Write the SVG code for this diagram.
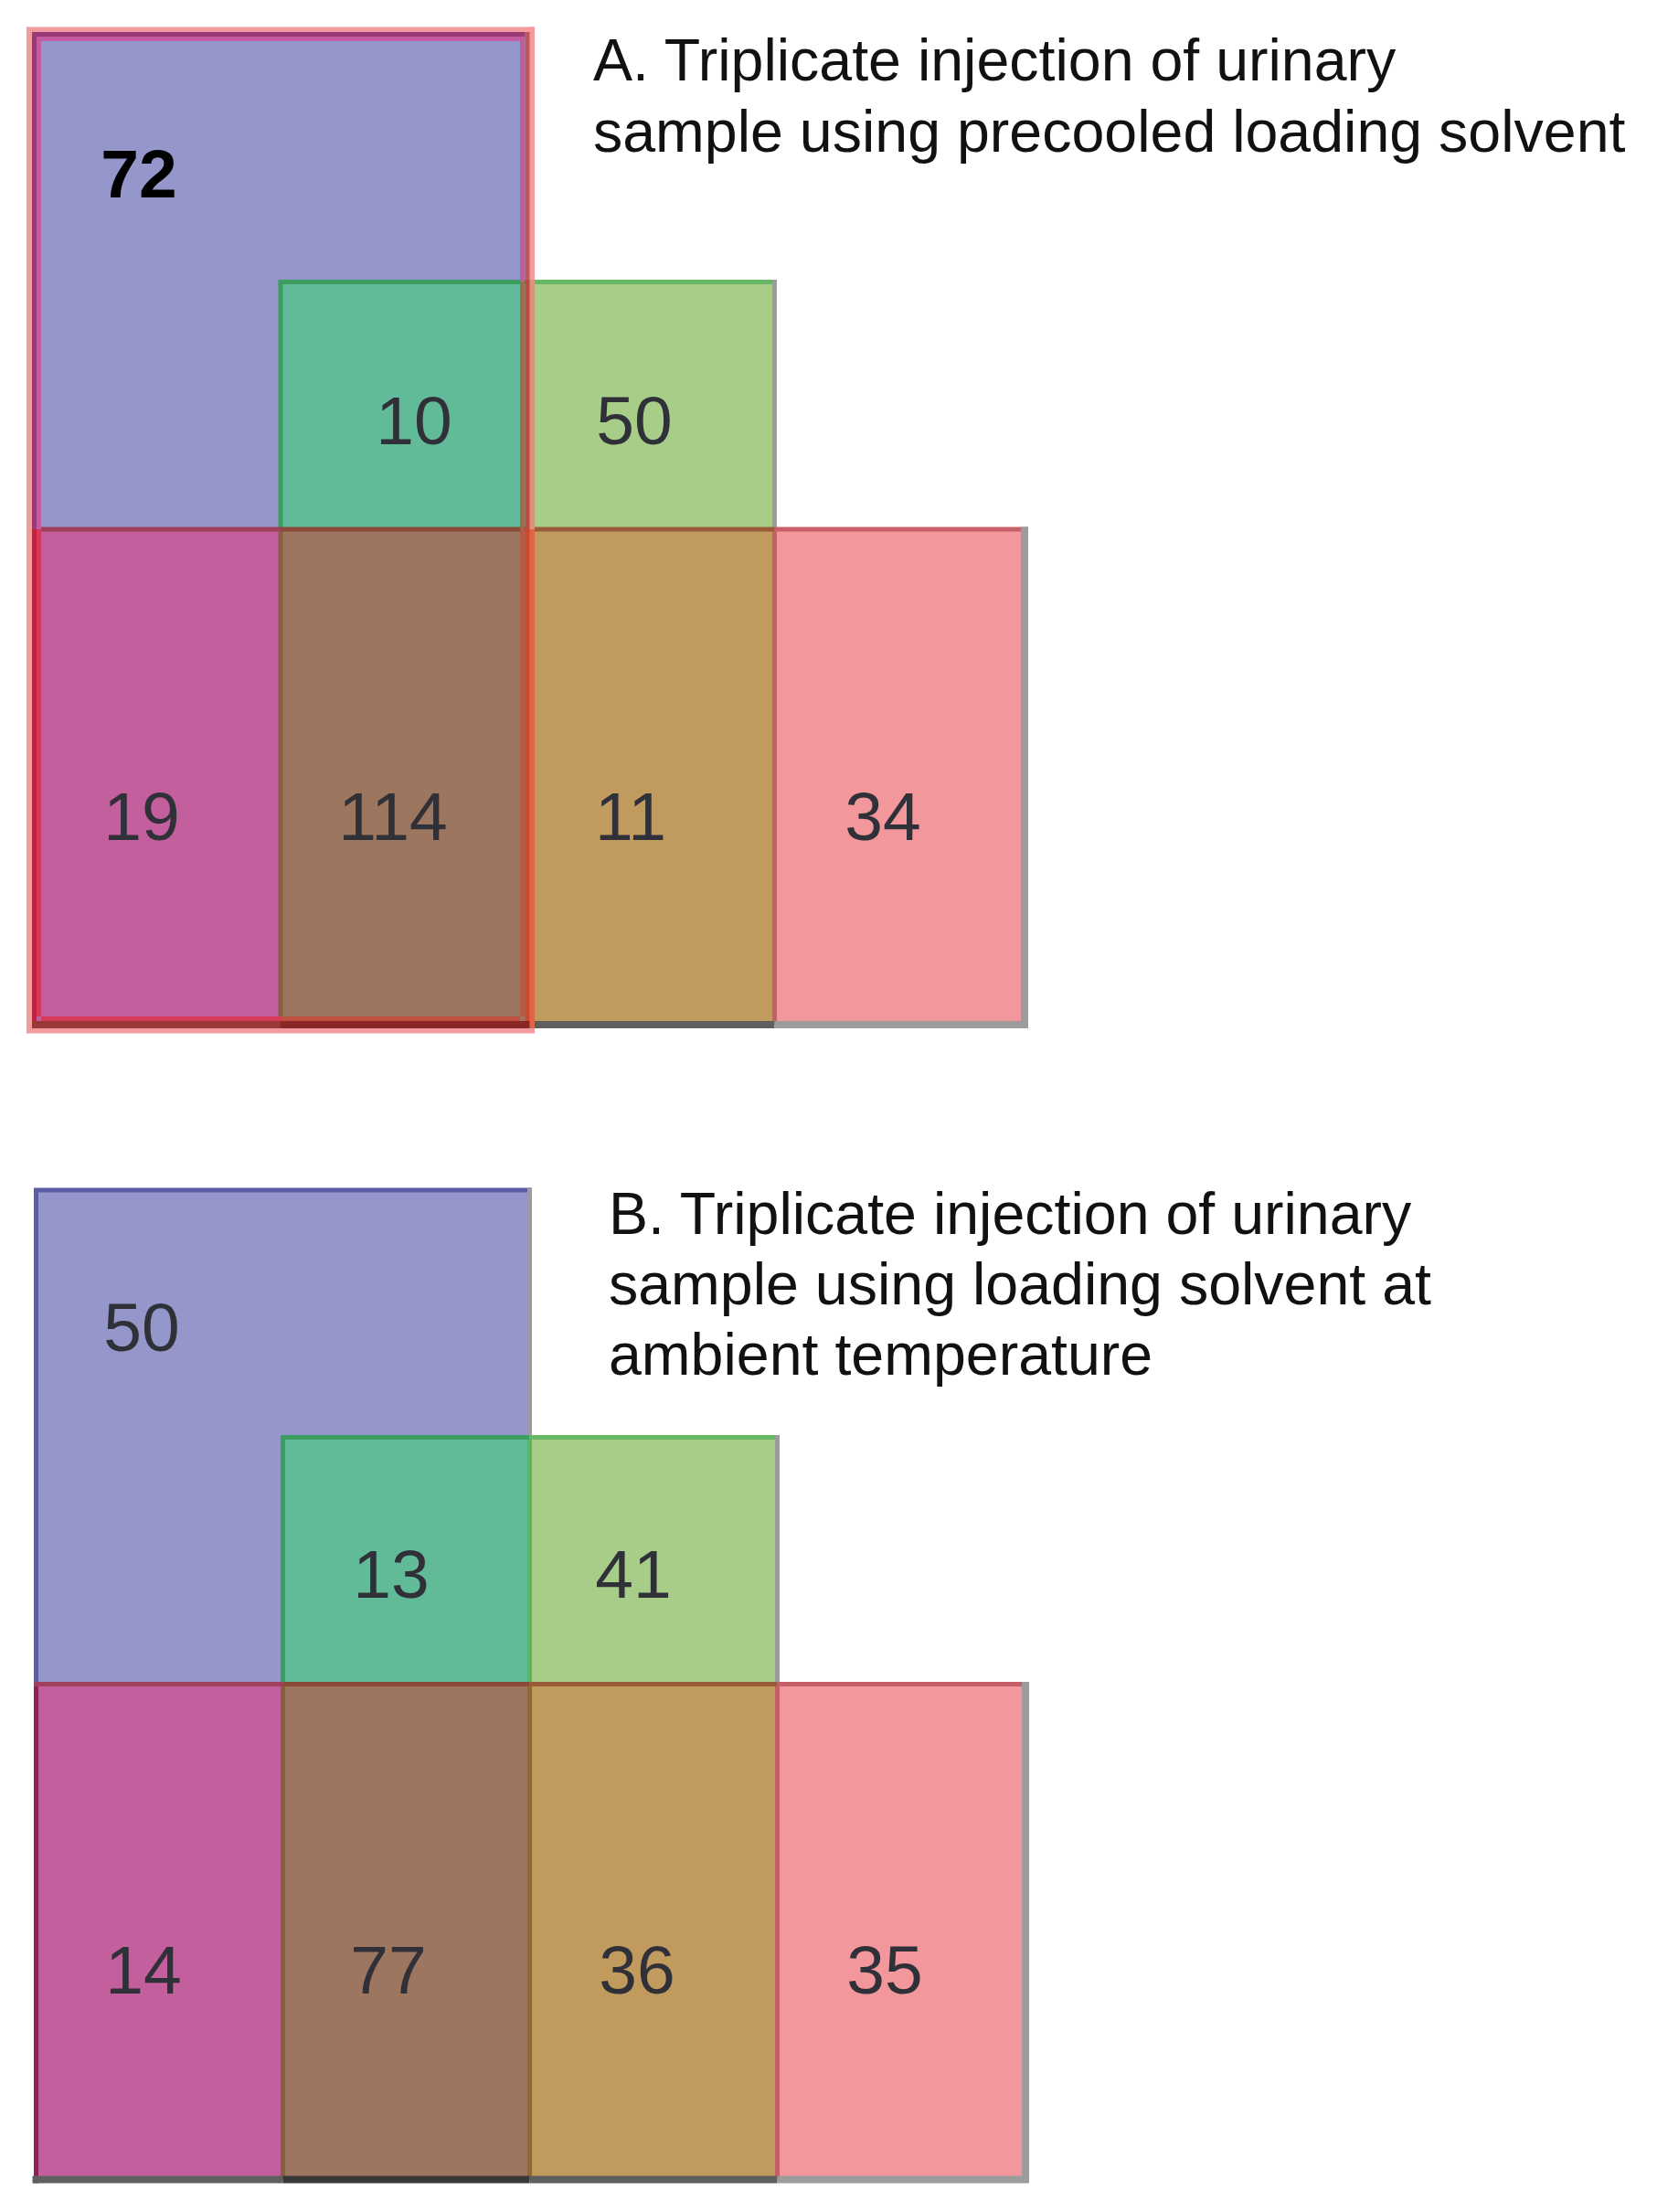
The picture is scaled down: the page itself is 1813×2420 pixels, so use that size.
<svg xmlns="http://www.w3.org/2000/svg" width="1813" height="2420" viewBox="0 0 1813 2420">
<style>
.num{font-family:"Liberation Sans",Arial,sans-serif;font-size:75px;fill:#303038;text-anchor:middle}
.bold{font-weight:bold;fill:#000}
.title{font-family:"Liberation Sans",Arial,sans-serif;font-size:64.5px;fill:#111}
.cB{fill:#9596c9}.cBG{fill:#62bb98}.cG{fill:#a8cd89}.cBR{fill:#c25f9c}.cBGR{fill:#9c765e}.cGR{fill:#c19b5e}.cR{fill:#f2979b}
.ln{fill:none;stroke-width:5;stroke-linecap:butt}
.w8{stroke-width:8}
.w6{stroke-width:6}
</style>
<rect width="1813" height="2420" fill="#fff"/>

<!-- Panel A -->
<g id="panelA">
<g id="A-72"><path class="cB" d="M35,35 H577 V308.5 H307 V579 H35 Z"/><text class="num bold" x="152" y="216">72</text></g>
<g id="A-10"><rect class="cBG" x="307" y="308.5" width="270" height="270.5"/><text class="num" x="453" y="486">10</text></g>
<g id="A-50"><rect class="cG" x="577" y="308.5" width="270.5" height="270.5"/><text class="num" x="694" y="486">50</text></g>
<g id="A-19"><rect class="cBR" x="35" y="579" width="272" height="542"/><text class="num" x="155" y="919">19</text></g>
<g id="A-114"><rect class="cBGR" x="307" y="579" width="270" height="542"/><text class="num" x="430" y="919">114</text></g>
<g id="A-11"><rect class="cGR" x="577" y="579" width="270.5" height="542"/><text class="num" x="690" y="919">11</text></g>
<g id="A-34"><rect class="cR" x="847.5" y="579" width="272" height="542"/><text class="num" x="966" y="919">34</text></g>
<g id="A-title">
<text class="title" x="649" y="88">A. Triplicate injection of urinary</text>
<text class="title" x="649" y="166">sample using precooled loading solvent</text>
</g>
</g>

<!-- Panel B -->
<g id="panelB">
<g id="B-50"><path class="cB" d="M39.5,1302 H579.5 V1572.5 H309.5 V1842.5 H39.5 Z"/><text class="num" x="155" y="1478">50</text></g>
<g id="B-13"><rect class="cBG" x="309.5" y="1572.5" width="270" height="270"/><text class="num" x="428" y="1748">13</text></g>
<g id="B-41"><rect class="cG" x="579.5" y="1572.5" width="271" height="270"/><text class="num" x="693" y="1748">41</text></g>
<g id="B-14"><rect class="cBR" x="39.5" y="1842.5" width="270" height="542"/><text class="num" x="157" y="2181">14</text></g>
<g id="B-77"><rect class="cBGR" x="309.5" y="1842.5" width="270" height="542"/><text class="num" x="425" y="2181">77</text></g>
<g id="B-36"><rect class="cGR" x="579.5" y="1842.5" width="271" height="542"/><text class="num" x="697" y="2181">36</text></g>
<g id="B-35"><rect class="cR" x="850.5" y="1842.5" width="271.5" height="542"/><text class="num" x="968" y="2181">35</text></g>
<g id="B-title">
<text class="title" x="666" y="1350">B. Triplicate injection of urinary</text>
<text class="title" x="666" y="1427">sample using loading solvent at</text>
<text class="title" x="666" y="1504">ambient temperature</text>
</g>
</g>

<!-- Set outlines -->
<g id="connectors">
<!-- Panel A green -->
<path class="ln" stroke="#3a9e5e" d="M305,308.5 H577 M307,306 V579"/>
<path class="ln" stroke="#66b866" d="M577,308.5 H850"/>
<path class="ln" stroke="#876040" d="M307,579 V1121"/>
<path class="ln" stroke="#9b9b9b" d="M847.5,306 V579"/>
<path class="ln" stroke="#c35f66" d="M847.5,579 V1121"/>
<!-- Panel A red -->
<path class="ln" stroke="#a0405e" d="M35,579 H307"/>
<path class="ln" stroke="#8a4838" d="M307,579 H577"/>
<path class="ln" stroke="#9a5c38" d="M577,579 H847.5"/>
<path class="ln" stroke="#c65f68" d="M847.5,579 H1125"/>
<path class="ln w8" stroke="#9c9c9c" d="M1121,576.5 V1125"/>
<path class="ln w8" stroke="#5f5f5f" d="M577,1121 H847.5"/>
<path class="ln w8" stroke="#9c9c9c" d="M847.5,1121 H1117"/>
<!-- Panel A highlighted set: outer pink -->
<path class="ln w6" stroke="#f49b9d" d="M32,1130.5 V32.5 H585 M29,1127.5 H585"/>
<path class="ln w6" stroke="#f49b9d" d="M582,29.5 V306"/>
<path class="ln w6" stroke="#d9957a" d="M582,306 V579"/>
<path class="ln w6" stroke="#e06545" d="M582,579 V1124.5"/>
<!-- dark band -->
<path class="ln" stroke="#9a3a78" d="M35,37.5 H574.5 M37.5,35 V579"/>
<path class="ln" stroke="#c42040" d="M37.5,579 V1117"/>
<path class="ln" stroke="#c0585a" d="M577,35 V306"/>
<path class="ln" stroke="#c04a40" d="M577,306 V579"/>
<path class="ln" stroke="#cc4a30" d="M577,579 V1117"/>
<path class="ln w8" stroke="#9a3838" d="M35,1121 H307"/>
<path class="ln w8" stroke="#8a2626" d="M307,1121 H579.5"/>
<!-- inner band -->
<path class="ln" stroke="#c25b9f" d="M40,42.5 H574 M42.5,45 V579 M571.5,45 V308.5"/>
<path class="ln" stroke="#d8385a" d="M42.5,579 V1112"/>
<path class="ln" stroke="#a06a48" d="M571.5,308.5 V579"/>
<path class="ln" stroke="#c05545" d="M571.5,579 V1112"/>
<path class="ln" stroke="#d83a5a" d="M45,1114.5 H307"/>
<path class="ln" stroke="#c05040" d="M307,1114.5 H569"/>

<!-- Panel B blue -->
<path class="ln" stroke="#5b5ea6" d="M37,1302 H582 M39.5,1299.5 V1842.5"/>
<path class="ln" stroke="#8b2252" d="M39.5,1842.5 V2388.5"/>
<path class="ln" stroke="#9b9b9b" d="M579.5,1299.5 V1572.5"/>
<path class="ln" stroke="#5fb55f" d="M579.5,1572.5 V1842.5"/>
<path class="ln" stroke="#94692f" d="M579.5,1842.5 V2384.5"/>
<!-- Panel B green -->
<path class="ln" stroke="#3a9e5e" d="M307,1572.5 H579.5 M309.5,1570 V1842.5"/>
<path class="ln" stroke="#66b866" d="M579.5,1572.5 H853"/>
<path class="ln" stroke="#876040" d="M309.5,1842.5 V2384.5"/>
<path class="ln" stroke="#9b9b9b" d="M850.5,1570 V1842.5"/>
<path class="ln" stroke="#c35f66" d="M850.5,1842.5 V2384.5"/>
<!-- Panel B red -->
<path class="ln" stroke="#a0405e" d="M37,1842.5 H309.5"/>
<path class="ln" stroke="#8a4838" d="M309.5,1842.5 H579.5"/>
<path class="ln" stroke="#9a5c38" d="M579.5,1842.5 H850.5"/>
<path class="ln" stroke="#c65f68" d="M850.5,1842.5 H1126"/>
<path class="ln w8" stroke="#9c9c9c" d="M1122,1840 V2388.5"/>
<path class="ln w8" stroke="#606060" d="M35.5,2384.5 H309.5"/>
<path class="ln w8" stroke="#383838" d="M309.5,2384.5 H579.5"/>
<path class="ln w8" stroke="#5f5f5f" d="M579.5,2384.5 H850.5"/>
<path class="ln w8" stroke="#9c9c9c" d="M850.5,2384.5 H1118"/>
</g>
</svg>
